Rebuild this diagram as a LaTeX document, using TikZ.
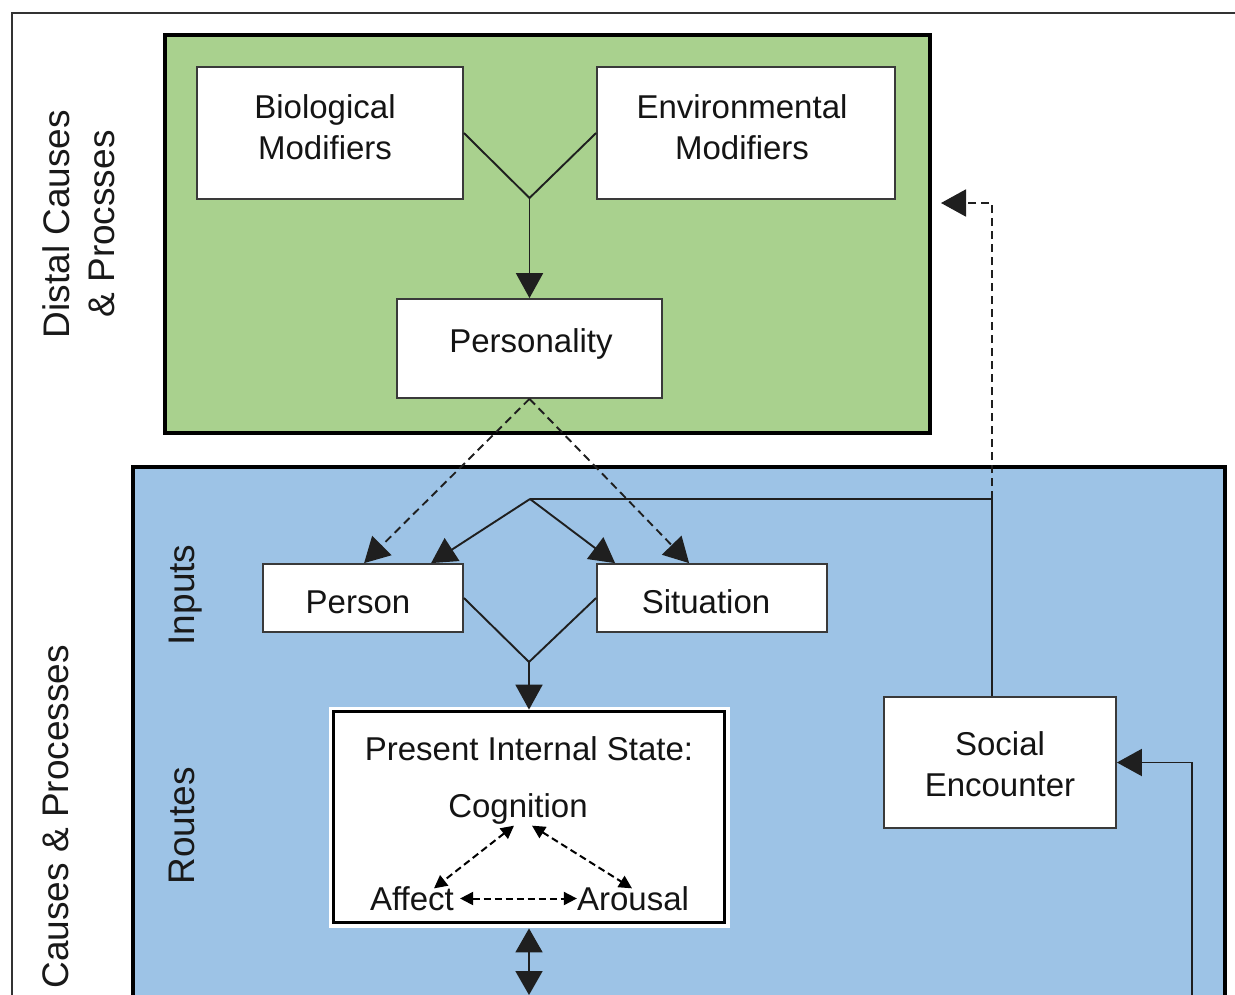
\documentclass[tikz,border=0pt]{standalone}
\usepackage{fontspec}
\setmainfont{Liberation Sans}
\usetikzlibrary{arrows.meta,calc}
\definecolor{grn}{HTML}{A9D18E}
\definecolor{blu}{HTML}{9DC3E6}
\definecolor{edge}{HTML}{3A3A3A}
\begin{document}
\begin{tikzpicture}[x=1pt,y=-1pt,
  wbox/.style={draw=edge, line width=1.8pt, fill=white, inner sep=0pt},
  panel/.style={draw=black, line width=3.8pt, inner sep=0pt},
  lbl/.style={font=\fontsize{33}{41}\selectfont, inner sep=0pt, text depth=0pt, align=center, text=black!92},
  side/.style={font=\fontsize{37}{45}\selectfont, inner sep=0pt, text depth=0pt, align=center, rotate=90, text=black!90},
  con/.style={line width=1.9pt, draw=black!88},
  dcon/.style={con, dash pattern=on 8pt off 5pt},
  big/.style={-{Triangle[length=25pt,width=27pt]}},
  sml/.style={{Triangle[length=13pt,width=13pt]}-{Triangle[length=13pt,width=13pt]}, line width=2pt, dash pattern=on 7pt off 4pt}
]
\useasboundingbox (0,0) rectangle (1235,994);
\clip (0,0) rectangle (1235,994);
\fill[white] (0,0) rectangle (1235,994);
\draw[line width=1.6pt, black!80] (12,13) rectangle (1260,1020);

% panels
\node[panel, fill=grn, minimum width=765pt, minimum height=398pt] (green) at (547.5,234) {};
\node[panel, fill=blu, minimum width=1092pt, minimum height=553pt] (blue) at (679,743.5) {};

% boxes
\node[wbox, minimum width=266pt, minimum height=132pt] (bio) at (330,133) {};
\node[wbox, minimum width=298pt, minimum height=132pt] (env) at (746,133) {};
\node[wbox, minimum width=265pt, minimum height=99pt] (pers) at (529.5,348.5) {};
\node[wbox, minimum width=200pt, minimum height=68pt] (person) at (363,598) {};
\node[wbox, minimum width=230pt, minimum height=68pt] (sit) at (712,598) {};
\node[wbox, minimum width=232pt, minimum height=131pt] (social) at (1000,762.5) {};
\node[fill=white, inner sep=0pt, minimum width=401pt, minimum height=221pt] (pishalo) at (529,817) {};
\node[draw=black, line width=3.8pt, fill=white, inner sep=0pt, minimum width=391pt, minimum height=211pt] (pis) at (529,817) {};

% texts
\node[lbl] (biot) at (325,127.5) {Biological\\Modifiers};
\node[lbl] (envt) at (742,127.5) {Environmental\\Modifiers};
\node[lbl] (perst) at (531,340.5) {Personality};
\node[lbl] (persont) at (358,602.5) {Person};
\node[lbl] (sitt) at (706,602) {Situation};
\node[lbl] (pist) at (529,748.5) {Present Internal State:};
\node[lbl] (cog) at (518,805.5) {Cognition};
\node[lbl] (aff) at (412,898.5) {Affect};
\node[lbl] (aro) at (633,898.5) {Arousal};
\node[lbl] (socialt) at (1000,764) {Social\\Encounter};

\node[side] (distal) at (78.5,224) {Distal Causes\\\& Procsses};
\node[side] (inputs) at (182,595) {Inputs};
\node[side] (routes) at (182,826) {Routes};
\node[side, anchor=east] (prox) at (56,645) {Causes \& Processes};

% distal junction
\coordinate (jY) at (529.5,198);
\draw[con] (bio.east) -- (jY) -- (env.west);
\draw[con, big] (jY) -- (pers.north);

% personality to inputs
\draw[dcon, big] (pers.south) -- ([xshift=102pt]person.north west);
\draw[dcon, big] (pers.south) -- ([xshift=93pt]sit.north west);

% feedback hub
\coordinate (hub) at (530,499);
\coordinate (hubR) at ([xshift=109pt]social.north west |- hub);
\coordinate (gIn) at (941,203);
\draw[con, big] (hub) -- ([xshift=169pt]person.north west);
\draw[con, big] (hub) -- ([xshift=19pt]sit.north west);
\draw[con] (hub) -- (hubR) -- ([xshift=109pt]social.north west);
\draw[dcon, big] (hubR) |- (gIn);

% inputs junction
\coordinate (jV) at (529,662);
\draw[con] (person.east) -- (jV) -- (sit.west);
\draw[con, big] (jV) -- (pis.north);

% inner state arrows
\draw[sml] ($(cog.south)+(-4,8)$) -- ($(aff.north)+(22,2)$);
\draw[sml] ($(cog.south)+(14,8)$) -- ($(aro.north)+(-1,2)$);
\draw[sml] ($(aff.east)+(6,0)$) -- (aro.west);

% below state
\coordinate (down) at (529,995);
\draw[con, {Triangle[length=24pt,width=27pt]}-{Triangle[length=24pt,width=27pt]}] ([yshift=-4pt]pis.south) -- (down);

% into social encounter
\coordinate (sIn) at (1192,1010);
\draw[con, big] (sIn) |- (social.east);
\end{tikzpicture}
\end{document}
